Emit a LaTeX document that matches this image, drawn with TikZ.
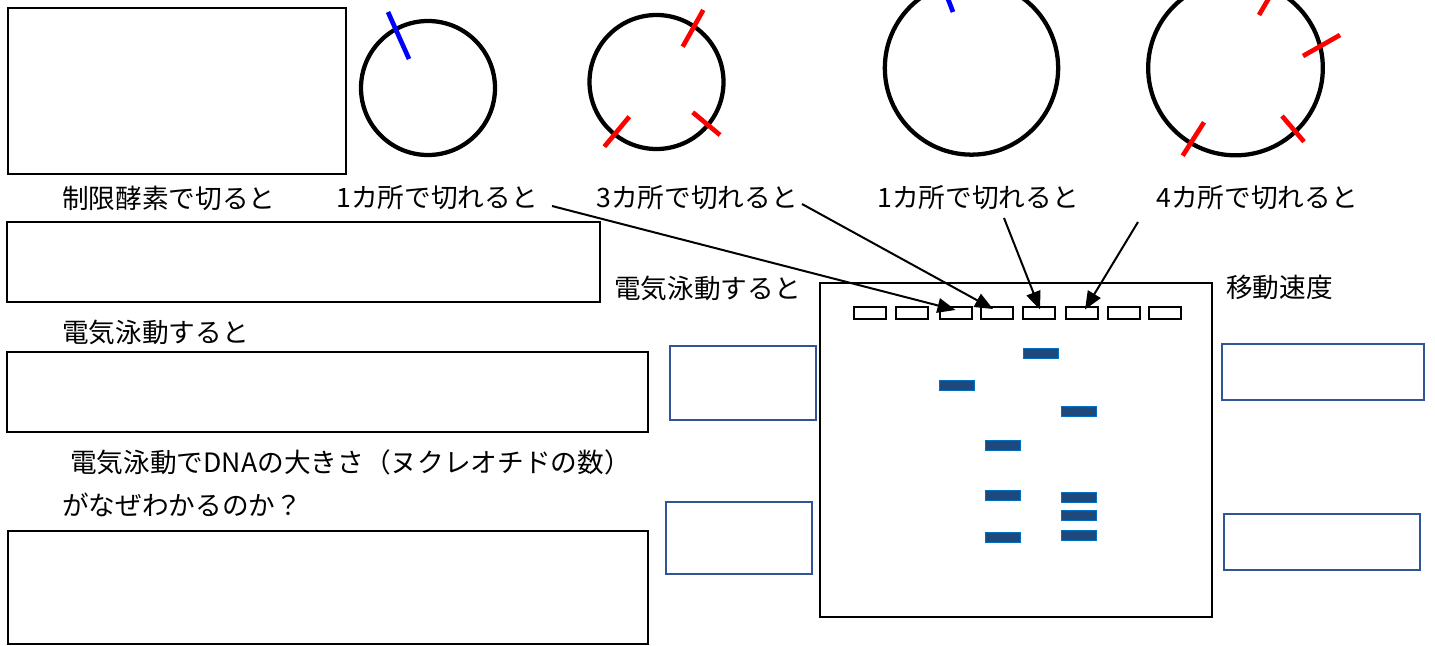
\documentclass[tikz,border=0pt]{standalone}
\usepackage{fontspec}
\setmainfont{Noto Sans CJK JP}
\usetikzlibrary{arrows.meta,calc}
\definecolor{boxblue}{RGB}{47,85,151}
\definecolor{banddark}{RGB}{31,73,125}
\definecolor{bandedge}{RGB}{0,112,192}
\definecolor{cutblue}{RGB}{0,0,255}
\definecolor{cutred}{RGB}{255,0,0}
\begin{document}
\begin{tikzpicture}[x=0.75pt,y=-0.75pt,
  lbl/.style={anchor=west, inner sep=0pt, font=\fontsize{20pt}{24pt}\selectfont},
  answer/.style={draw=black, line width=1.2pt},
  bluebox/.style={draw=boxblue, line width=1.2pt},
  gel/.style={draw=black, line width=1.6pt},
  well/.style={draw=black, line width=1.5pt, minimum width=24pt, minimum height=9.5pt, inner sep=0pt},
  band/.style={fill=banddark, draw=bandedge, line width=1.2pt, minimum width=26pt, minimum height=7.5pt, inner sep=0pt},
  ring/.style={draw=black, line width=3.2pt},
  bluecut/.style={draw=cutblue, line width=3.5pt},
  redcut/.style={draw=cutred, line width=3.5pt},
  arr/.style={draw=black, line width=1.5pt, -{Triangle[length=13.5pt,width=11pt]}}]
\useasboundingbox (0,0) rectangle (1435,646);
\clip (0,0) rectangle (1435,646);

% answer boxes on the left
\draw[answer] (8,8) rectangle (346,174);
\draw[answer] (7,222) rectangle (600,302);
\draw[answer] (7,352) rectangle (648,432);
\draw[answer] (8,531) rectangle (648,644);

% plasmid circles
\draw[ring] (428,88) circle[radius=50.25pt];
\draw[bluecut] (388,12) -- (409,59);

\draw[ring] (656.5,82) circle[radius=50.25pt];
\draw[redcut] (703.3,10) -- (682.7,46.7);
\draw[redcut] (629.3,116.7) -- (604.3,146.7);
\draw[redcut] (692.7,112.3) -- (720,135);

\draw[ring] (971.5,68) circle[radius=65pt];
\draw[bluecut] (935,-35) -- (953,12);

\draw[ring] (1235.5,68) circle[radius=65.5pt];
\draw[redcut] (1276,-14) -- (1259,15);
\draw[redcut] (1340,35) -- (1303,56);
\draw[redcut] (1282,116) -- (1304,141.7);
\draw[redcut] (1204,122.3) -- (1182.7,155.7);

% labels
\node[lbl] (t0) at (62,198) {制限酵素で切ると};
\node[lbl] (t1) at (336,198) {1カ所で切れると};
\node[lbl] (t2) at (596,198) {3カ所で切れると};
\node[lbl] (t3) at (877,198) {1カ所で切れると};
\node[lbl] (t4) at (1156,198) {4カ所で切れると};
\node[lbl] (t5) at (62,332) {電気泳動すると};
\node[lbl] (t6) at (614,288) {電気泳動すると};
\node[lbl] (t7) at (1226,287) {移動速度};
\node[lbl] (t8) at (70,462) {電気泳動でDNAの大きさ（ヌクレオチドの数）};
\node[lbl] (t9) at (62,505) {がなぜわかるのか？};

% blue answer boxes
\draw[bluebox] (670,346) rectangle (816,420);
\draw[bluebox] (666,502) rectangle (812,574);
\draw[bluebox] (1222,344) rectangle (1424,400);
\draw[bluebox] (1224,514) rectangle (1420,570);

% gel
\draw[gel] (820,283) rectangle (1212,617);
\node[well] (w1) at (870,313) {};
\node[well] (w2) at (912,313) {};
\node[well] (w3) at (955.5,313) {};
\node[well] (w4) at (997,313) {};
\node[well] (w5) at (1039,313) {};
\node[well] (w6) at (1082,313) {};
\node[well] (w7) at (1124,313) {};
\node[well] (w8) at (1165,313) {};

% bands
\node[band] (b1) at (1041,353.5) {};
\node[band] (b2) at (957,385.5) {};
\node[band] (b3) at (1079,411.5) {};
\node[band] (b4) at (1003,445.5) {};
\node[band] (b5) at (1003,495.5) {};
\node[band] (b6) at (1003,537.5) {};
\node[band] (b7) at (1079,497.5) {};
\node[band] (b8) at (1079,515.5) {};
\node[band] (b9) at (1079,535.5) {};

% arrows
\coordinate (s1) at (552,206);
\coordinate (s2) at (802,204);
\coordinate (s3) at (1004,218);
\coordinate (s4) at (1138,222);
\draw[arr] (s1) -- ($(w3.center)+(0,-3)$);
\draw[arr] (s2) -- ($(w4.center)+(-4,-4)$);
\draw[arr] (s3) -- ($(w5.center)+(1,-3.5)$);
\draw[arr] (s4) -- ($(w6.center)+(3,-3.5)$);
\end{tikzpicture}
\end{document}
